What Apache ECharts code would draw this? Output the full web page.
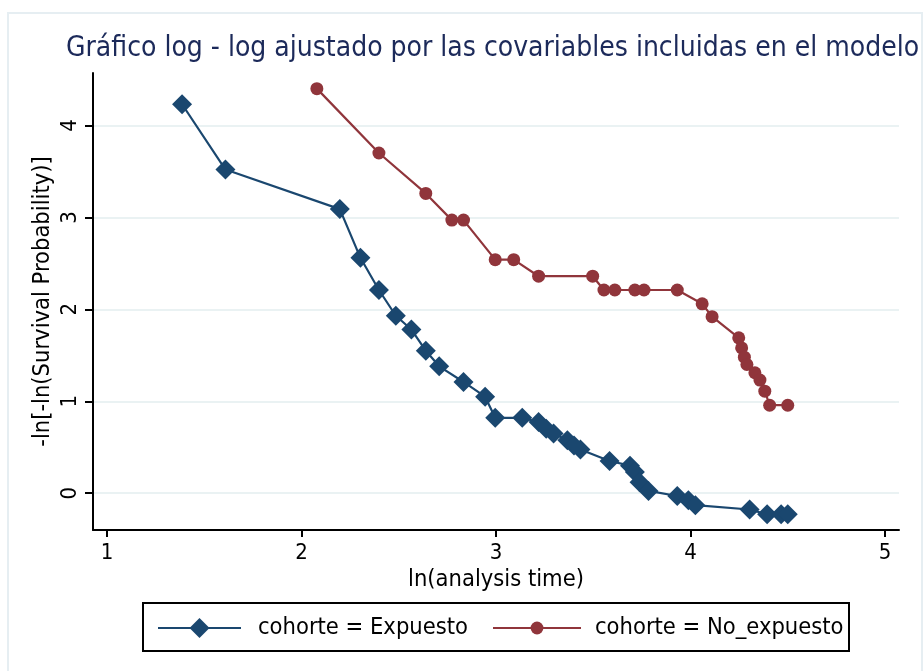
<!DOCTYPE html>
<html>
<head>
<meta charset="utf-8">
<script src="https://cdn.jsdelivr.net/npm/echarts@6/dist/echarts.min.js"></script>
<style>
  html, body { margin: 0; padding: 0; background: #ffffff; }
  #chart { width: 924px; height: 671px; }
</style>
</head>
<body>
<div id="chart"></div>
<script>
// ln(analysis time) and -ln[-ln(S)] for each cohort
const expuestoX = [1.386, 1.609, 2.197, 2.303, 2.398, 2.485, 2.565, 2.639, 2.708, 2.833, 2.944, 2.996, 3.135, 3.219, 3.258, 3.296, 3.367, 3.401, 3.434, 3.584, 3.689, 3.714, 3.738, 3.784, 3.932, 3.989, 4.025, 4.304, 4.394, 4.466, 4.500];
const expuestoY = [4.23, 3.52, 3.09, 2.56, 2.21, 1.93, 1.78, 1.55, 1.38, 1.21, 1.05, 0.82, 0.82, 0.775, 0.70, 0.65, 0.576, 0.52, 0.475, 0.35, 0.30, 0.23, 0.12, 0.025, -0.03, -0.076, -0.13, -0.177, -0.23, -0.23, -0.23];

const noExpuestoX = [2.079, 2.398, 2.639, 2.773, 2.833, 2.996, 3.091, 3.219, 3.497, 3.555, 3.611, 3.714, 3.761, 3.932, 4.060, 4.111, 4.248, 4.263, 4.277, 4.290, 4.331, 4.357, 4.382, 4.407, 4.500];
const noExpuestoY = [4.40, 3.70, 3.26, 2.97, 2.97, 2.54, 2.54, 2.36, 2.36, 2.21, 2.21, 2.21, 2.21, 2.21, 2.06, 1.92, 1.69, 1.58, 1.48, 1.40, 1.31, 1.23, 1.11, 0.957, 0.957];

const xTicks = [1, 2, 3, 4, 5];
const yTicks = [0, 1, 2, 3, 4];

const seriesNames = ['cohorte = Expuesto', 'cohorte = No_expuesto'];
const titleText = 'Gráfico log - log ajustado por las covariables incluidas en el modelo';
const xTitle = 'ln(analysis time)';
const yTitle = '-ln[-ln(Survival Probability)]';

const pairs = (xs, ys) => xs.map((x, i) => [x, ys[i]]);

const BLUE = '#1a476f';
const RED = '#90353b';
const baseFont = 'DejaVu Sans Condensed, Liberation Sans, sans-serif';
const legendText = { color: '#000', fontSize: 23.5, fontFamily: baseFont };

const chart = echarts.init(document.getElementById('chart'), null, { renderer: 'canvas' });

chart.setOption({
  backgroundColor: '#ffffff',
  animation: false,
  graphic: [
    {
      // outer frame of the graph region
      type: 'rect',
      shape: { x: 8, y: 13, width: 914, height: 670 },
      style: { fill: 'none', stroke: '#e6eef2', lineWidth: 2 },
      silent: true,
      z: -1
    },
    {
      // box around the legend keys
      type: 'rect',
      shape: { x: 143, y: 603, width: 706, height: 48 },
      style: { fill: 'none', stroke: '#000', lineWidth: 2 },
      silent: true
    }
  ],
  title: {
    text: titleText,
    left: 61,
    top: 30,
    textStyle: { color: '#1c2a5a', fontSize: 28, fontWeight: 'normal', fontFamily: baseFont }
  },
  grid: { left: 93, top: 73, right: 25, bottom: 141 },
  xAxis: {
    type: 'value',
    min: 0.928,
    max: 5.072,
    name: xTitle,
    nameLocation: 'middle',
    nameGap: 38,
    nameMoveOverlap: false,
    nameTextStyle: { color: '#000', fontSize: 23.5, fontFamily: baseFont },
    axisLine: { show: true, onZero: false, lineStyle: { color: '#000', width: 2 } },
    axisTick: { show: true, length: 7, customValues: xTicks, lineStyle: { color: '#000', width: 2 } },
    axisLabel: { customValues: xTicks, color: '#000', fontSize: 22, margin: 12, fontFamily: baseFont },
    splitLine: { show: false }
  },
  yAxis: {
    type: 'value',
    min: -0.4,
    max: 4.57,
    name: yTitle,
    nameLocation: 'middle',
    nameGap: 38,
    nameMoveOverlap: false,
    nameTextStyle: { color: '#000', fontSize: 23.5, fontFamily: baseFont },
    axisLine: { show: true, onZero: false, lineStyle: { color: '#000', width: 2 } },
    axisTick: { show: true, length: 8, customValues: yTicks, lineStyle: { color: '#000', width: 2 } },
    axisLabel: { customValues: yTicks, rotate: 90, color: '#000', fontSize: 22, margin: 12, fontFamily: baseFont },
    splitLine: { show: true, lineStyle: { color: '#eaf2f3', width: 2 } }
  },
  legend: [
    {
      left: 157,
      top: 616,
      padding: 0,
      itemWidth: 83,
      itemHeight: 25,
      textStyle: Object.assign({ padding: [0, 0, 0, 12] }, legendText),
      data: [seriesNames[0]]
    },
    {
      left: 492,
      top: 616,
      padding: 0,
      itemWidth: 88,
      itemHeight: 16,
      textStyle: Object.assign({ padding: [0, 0, 0, 9] }, legendText),
      data: [seriesNames[1]]
    }
  ],
  series: [
    {
      name: seriesNames[0],
      type: 'line',
      data: pairs(expuestoX, expuestoY),
      symbol: 'diamond',
      symbolSize: 20,
      itemStyle: { color: BLUE },
      lineStyle: { color: BLUE, width: 2.2 },
      z: 3
    },
    {
      name: seriesNames[1],
      type: 'line',
      data: pairs(noExpuestoX, noExpuestoY),
      symbol: 'circle',
      symbolSize: 13,
      itemStyle: { color: RED },
      lineStyle: { color: RED, width: 2.2 },
      z: 2
    }
  ]
});
</script>
</body>
</html>
